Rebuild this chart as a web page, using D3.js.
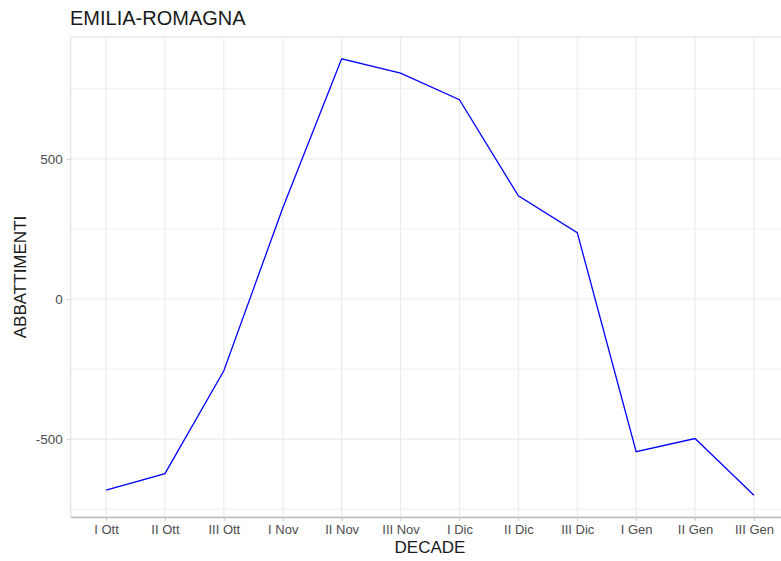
<!DOCTYPE html>
<html>
<head>
<meta charset="utf-8">
<script src="https://cdn.jsdelivr.net/npm/d3@7"></script>
<style>
  body { margin: 0; background: #fff; }
  text { font-family: "Liberation Sans", Arial, sans-serif; }
</style>
</head>
<body>
<svg id="chart" width="781" height="561"></svg>
<script>
var decades = ["I Ott", "II Ott", "III Ott", "I Nov", "II Nov", "III Nov",
               "I Dic", "II Dic", "III Dic", "I Gen", "II Gen", "III Gen"];
var abbattimenti = [-682, -623, -256, 325, 857, 806, 711, 368, 237, -545, -498, -700];
var yMajorTicks = [-500, 0, 500];
var yMinorTicks = [-750, -250, 250, 750];

var data = decades.map(function(d, i) { return {decade: d, value: abbattimenti[i]}; });

var svg = d3.select("#chart"),
    panelLeft = 70.7,
    panelRight = 789.3,
    panelTop = 37,
    panelBottom = 517;

var xScale = d3.scalePoint().domain(decades).range([panelLeft, panelRight]).padding(0.6);

var ymin = d3.min(abbattimenti), ymax = d3.max(abbattimenti),
    pad = (ymax - ymin) * 0.05;
var yScale = d3.scaleLinear().domain([ymin - pad, ymax + pad]).range([panelBottom, panelTop]);

// grid
var grid = svg.append("g");
grid.selectAll(".minor")
    .data(yMinorTicks)
    .enter().append("line")
    .attr("x1", panelLeft).attr("x2", panelRight)
    .attr("y1", function(d) { return yScale(d); })
    .attr("y2", function(d) { return yScale(d); })
    .attr("stroke", "#EFEFEF").attr("stroke-width", 1);
grid.selectAll(".major")
    .data(yMajorTicks)
    .enter().append("line")
    .attr("x1", panelLeft).attr("x2", panelRight)
    .attr("y1", function(d) { return yScale(d); })
    .attr("y2", function(d) { return yScale(d); })
    .attr("stroke", "#EBEBEB").attr("stroke-width", 1.1);
grid.selectAll(".vmajor")
    .data(decades)
    .enter().append("line")
    .attr("x1", function(d) { return xScale(d); })
    .attr("x2", function(d) { return xScale(d); })
    .attr("y1", panelTop).attr("y2", panelBottom)
    .attr("stroke", "#EBEBEB").attr("stroke-width", 1.1);

// panel border
svg.append("rect")
    .attr("x", panelLeft).attr("y", panelTop)
    .attr("width", panelRight - panelLeft).attr("height", panelBottom - panelTop)
    .attr("fill", "none").attr("stroke", "#E3E3E3").attr("stroke-width", 1.2);

// x axis
var xAxis = svg.append("g")
    .attr("transform", "translate(0," + panelBottom + ")")
    .call(d3.axisBottom(xScale).tickSize(4).tickSizeOuter(0).tickPadding(4));
xAxis.select(".domain").attr("stroke", "#BDBDBD").attr("stroke-width", 1.5);
xAxis.selectAll(".tick line").attr("stroke", "#C8C8C8");
xAxis.selectAll(".tick text")
    .attr("fill", "#4D4D4D").attr("font-size", "13px")
    .style("font-family", "'Liberation Sans', Arial, sans-serif");

// y axis
var yAxis = svg.append("g")
    .attr("transform", "translate(" + panelLeft + ",0)")
    .call(d3.axisLeft(yScale).tickValues(yMajorTicks).tickSize(4).tickPadding(4)
        .tickFormat(function(d) { return String(d); }));
yAxis.select(".domain").remove();
yAxis.selectAll(".tick line").attr("stroke", "#D5D5D5");
yAxis.selectAll(".tick text")
    .attr("fill", "#4D4D4D").attr("font-size", "13.5px")
    .style("font-family", "'Liberation Sans', Arial, sans-serif");

// line
var line = d3.line()
    .x(function(d) { return xScale(d.decade); })
    .y(function(d) { return yScale(d.value); });

svg.append("path")
    .datum(data)
    .attr("d", line)
    .attr("fill", "none")
    .attr("stroke", "#0000FF")
    .attr("stroke-width", 1.3);

// titles
svg.append("text")
    .attr("x", 70).attr("y", 25)
    .attr("font-size", "20px").attr("fill", "#1A1A1A")
    .text("EMILIA-ROMAGNA");

svg.append("text")
    .attr("x", 430).attr("y", 553)
    .attr("text-anchor", "middle")
    .attr("font-size", "17px").attr("fill", "#1A1A1A")
    .text("DECADE");

svg.append("text")
    .attr("transform", "translate(26," + ((panelTop + panelBottom) / 2) + ") rotate(-90)")
    .attr("text-anchor", "middle")
    .attr("font-size", "17px").attr("fill", "#1A1A1A")
    .text("ABBATTIMENTI");
</script>
</body>
</html>
